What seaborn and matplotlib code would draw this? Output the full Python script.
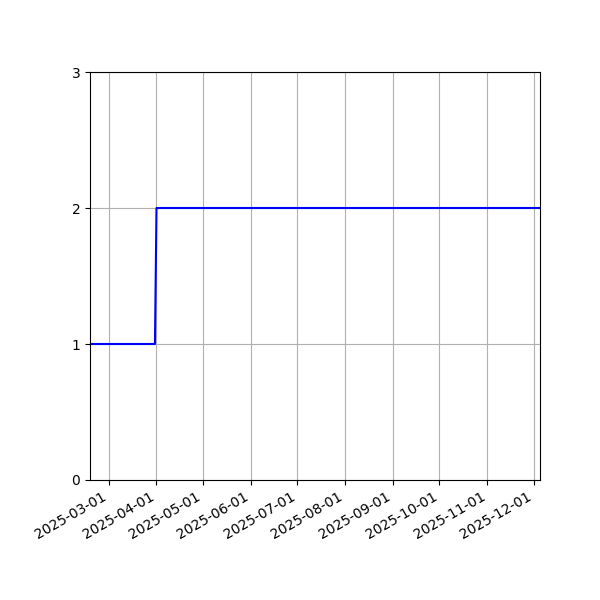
import matplotlib
matplotlib.use("Agg")
import matplotlib.pyplot as plt
import matplotlib.dates as mdates
import pandas as pd
import seaborn as sns

dates = ["2025-02-17", "2025-03-31", "2025-04-01", "2025-12-05"]
values = [1, 1, 2, 2]

df = pd.DataFrame({"date": pd.to_datetime(dates), "value": values})

fig, ax = plt.subplots(figsize=(6, 6), dpi=100)
sns.lineplot(data=df, x="date", y="value", ax=ax, color="blue", linewidth=1.5)

ax.set_xlim(df["date"].min(), df["date"].max())
ax.set_ylim(0, 3)
ax.set_yticks([0, 1, 2, 3])
ax.xaxis.set_major_locator(mdates.MonthLocator())
ax.xaxis.set_major_formatter(mdates.DateFormatter("%Y-%m-%d"))
ax.grid(True)
ax.set_xlabel("")
ax.set_ylabel("")
fig.autofmt_xdate()
fig.subplots_adjust(left=0.15, right=0.9, top=0.88, bottom=0.2)
fig.savefig("out.png", dpi=100)
